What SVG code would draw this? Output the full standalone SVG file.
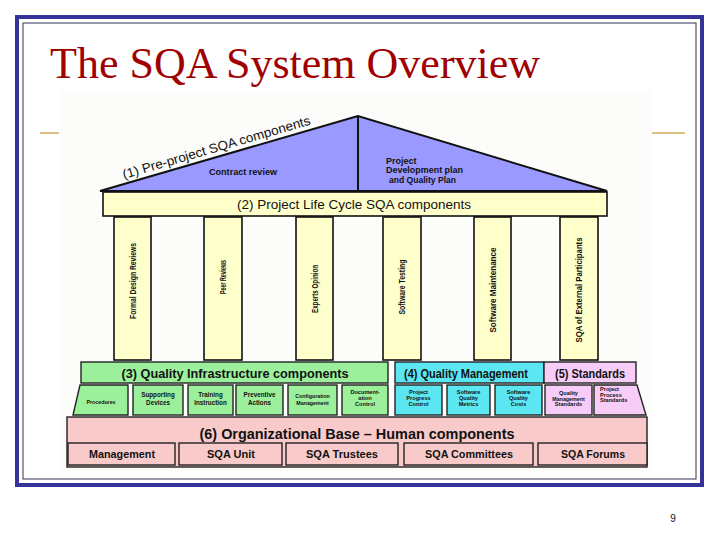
<svg xmlns="http://www.w3.org/2000/svg" width="720" height="540" viewBox="0 0 720 540">
<style>
.s{font-family:"Liberation Sans",Arial,sans-serif;font-weight:bold;fill:#111;text-anchor:middle}
.n{font-family:"Liberation Sans",Arial,sans-serif;fill:#111;text-anchor:middle}
.sm{font-size:6.3px}
.t3{font-size:5.6px}
.xs{font-size:5.3px}
.pil{fill:#FFFFCC;stroke:#111;stroke-width:1.6}
.grn{fill:#9CF09C;stroke:#222;stroke-width:1.4}
.cyn{fill:#5CE6F2;stroke:#222;stroke-width:1.4}
.mag{fill:#F7CCF7;stroke:#222;stroke-width:1.4}
.pnk{fill:#F9CACA;stroke:#222;stroke-width:1.4}
.hd{font-size:12.5px}
.bt{font-size:11px}
</style>
<rect x="0" y="0" width="720" height="540" fill="#ffffff"/>
<rect x="17" y="17" width="685" height="468" fill="none" stroke="#333399" stroke-width="4"/>
<rect x="23" y="23" width="673" height="456" fill="none" stroke="#333355" stroke-width="1"/>
<text x="50" y="78" font-family="'Liberation Serif','Times New Roman',serif" font-size="44" fill="#A00000">The SQA System Overview</text>
<line x1="40" y1="133" x2="62" y2="133" stroke="#D2A85A" stroke-width="1.5"/>
<line x1="650" y1="133" x2="685" y2="133" stroke="#D2A85A" stroke-width="1.5"/>
<rect x="59" y="90" width="593" height="382" fill="#FCFCFA"/>

<g id="roof">
<polygon points="358,116 100,191 607,191" fill="#9999FF" stroke="#111" stroke-width="2"/>
<line x1="358" y1="116" x2="358" y2="191" stroke="#111" stroke-width="2"/>
<text class="n" font-size="13" transform="translate(124,179) rotate(-16.3)" textLength="195" lengthAdjust="spacingAndGlyphs" style="text-anchor:start">(1) Pre-project SQA components</text>
<text class="s" font-size="9" x="243" y="175" textLength="68" lengthAdjust="spacingAndGlyphs">Contract review</text>
<text class="s" font-size="9" x="386" y="164" style="text-anchor:start">Project</text>
<text class="s" font-size="9" x="386" y="173" style="text-anchor:start" textLength="77" lengthAdjust="spacingAndGlyphs">Development plan</text>
<text class="s" font-size="9" x="389" y="183" style="text-anchor:start" textLength="67" lengthAdjust="spacingAndGlyphs">and Quality Plan</text>
</g>

<g id="lifecycle">
<rect x="103" y="192" width="504" height="24" fill="#FFFFCC" stroke="#111" stroke-width="1.6"/>
<text class="n" font-size="13" x="354" y="209" textLength="234" lengthAdjust="spacingAndGlyphs">(2) Project Life Cycle SQA components</text>
</g>

<g id="pillar-fdr">
<rect class="pil" x="114" y="217" width="37" height="143"/>
<text class="s" font-size="9" transform="translate(135.5,281) rotate(-90)" textLength="76" lengthAdjust="spacingAndGlyphs">Formal Design Reviews</text>
</g>
<g id="pillar-peer">
<rect class="pil" x="204" y="217" width="38" height="143"/>
<text class="s" font-size="9" transform="translate(226,277) rotate(-90)" textLength="34" lengthAdjust="spacingAndGlyphs">Peer Reviews</text>
</g>
<g id="pillar-expert">
<rect class="pil" x="296" y="217" width="37" height="143"/>
<text class="s" font-size="9" transform="translate(317.5,289) rotate(-90)" textLength="48" lengthAdjust="spacingAndGlyphs">Experts Opinion</text>
</g>
<g id="pillar-testing">
<rect class="pil" x="383" y="217" width="38" height="143"/>
<text class="s" font-size="9" transform="translate(405,287) rotate(-90)" textLength="55" lengthAdjust="spacingAndGlyphs">Software Testing</text>
</g>
<g id="pillar-maint">
<rect class="pil" x="474" y="217" width="37" height="143"/>
<text class="s" font-size="9" transform="translate(495.5,290) rotate(-90)" textLength="85" lengthAdjust="spacingAndGlyphs">Software Maintenance</text>
</g>
<g id="pillar-ext">
<rect class="pil" x="560" y="217" width="38" height="143"/>
<text class="s" font-size="9" transform="translate(582,290) rotate(-90)" textLength="105" lengthAdjust="spacingAndGlyphs">SQA of External Participants</text>
</g>

<g id="infrastructure">
<rect class="grn" x="81" y="362" width="307" height="21"/>
<text class="s hd" x="235" y="378" textLength="227" lengthAdjust="spacingAndGlyphs">(3) Quality Infrastructure components</text>
</g>
<g id="procedures">
<polygon class="grn" points="80,385 128,385 128,415 73,415"/>
<text class="s xs" x="101" y="404">Procedures</text>
</g>
<g id="supporting">
<rect class="grn" x="133" y="385" width="50" height="30"/>
<text class="s sm" x="158" y="397">Supporting</text>
<text class="s sm" x="158" y="405">Devices</text>
</g>
<g id="training">
<rect class="grn" x="188" y="385" width="45" height="30"/>
<text class="s sm" x="210.5" y="397">Training</text>
<text class="s sm" x="210.5" y="405">Instruction</text>
</g>
<g id="preventive">
<rect class="grn" x="236" y="385" width="47" height="30" stroke-width="2"/>
<text class="s sm" x="259.5" y="397">Preventive</text>
<text class="s sm" x="259.5" y="405">Actions</text>
</g>
<g id="configuration">
<rect class="grn" x="288" y="385" width="49" height="30"/>
<text class="s xs" x="312.5" y="398">Configuration</text>
<text class="s xs" x="312.5" y="405">Management</text>
</g>
<g id="documentation">
<rect class="grn" x="342" y="385" width="46" height="30"/>
<text class="s t3" x="365" y="394">Document-</text>
<text class="s t3" x="365" y="400">ation</text>
<text class="s t3" x="365" y="406">Control</text>
</g>

<g id="quality-management">
<rect class="cyn" x="395" y="362" width="149" height="21"/>
<text class="s hd" x="466" y="378" textLength="124" lengthAdjust="spacingAndGlyphs">(4) Quality Management</text>
</g>
<g id="progress">
<rect class="cyn" x="395" y="385" width="47" height="30"/>
<text class="s t3" x="418.5" y="394">Project</text>
<text class="s t3" x="418.5" y="400">Progress</text>
<text class="s t3" x="418.5" y="406">Control</text>
</g>
<g id="metrics">
<rect class="cyn" x="447" y="385" width="43" height="30"/>
<text class="s t3" x="468.5" y="394">Software</text>
<text class="s t3" x="468.5" y="400">Quality</text>
<text class="s t3" x="468.5" y="406">Metrics</text>
</g>
<g id="costs">
<rect class="cyn" x="495" y="385" width="47" height="30"/>
<text class="s t3" x="518.5" y="394">Software</text>
<text class="s t3" x="518.5" y="400">Quality</text>
<text class="s t3" x="518.5" y="406">Costs</text>
</g>

<g id="standards">
<rect class="mag" x="544" y="362" width="92" height="21"/>
<text class="s hd" x="590" y="378" textLength="70" lengthAdjust="spacingAndGlyphs">(5) Standards</text>
</g>
<g id="qm-standards">
<rect class="mag" x="545" y="385" width="47" height="30"/>
<text class="s t3" x="568.5" y="395">Quality</text>
<text class="s xs" x="568.5" y="400.5">Management</text>
<text class="s t3" x="568.5" y="406">Standards</text>
</g>
<g id="pp-standards">
<polygon class="mag" points="594,385 637,385 646,415 594,415"/>
<text class="s t3" x="600" y="391" style="text-anchor:start">Project</text>
<text class="s t3" x="600" y="396.5" style="text-anchor:start">Process</text>
<text class="s t3" x="600" y="402" style="text-anchor:start">Standards</text>
</g>

<g id="org-base">
<rect class="pnk" x="67" y="417" width="580" height="50"/>
<text class="s" font-size="15" x="357" y="439" textLength="315" lengthAdjust="spacingAndGlyphs">(6) Organizational Base – Human components</text>
</g>
<g id="management">
<rect class="pnk" x="68" y="443" width="107" height="22" stroke-width="2"/>
<text class="s bt" x="122" y="458" textLength="66" lengthAdjust="spacingAndGlyphs">Management</text>
</g>
<g id="sqa-unit">
<rect class="pnk" x="179" y="443" width="103" height="22"/>
<text class="s bt" x="231" y="458" textLength="48" lengthAdjust="spacingAndGlyphs">SQA Unit</text>
</g>
<g id="sqa-trustees">
<rect class="pnk" x="286" y="443" width="112" height="22"/>
<text class="s bt" x="342" y="458" textLength="72" lengthAdjust="spacingAndGlyphs">SQA Trustees</text>
</g>
<g id="sqa-committees">
<rect class="pnk" x="404" y="443" width="129" height="22" stroke-width="2"/>
<text class="s bt" x="469" y="458" textLength="88" lengthAdjust="spacingAndGlyphs">SQA Committees</text>
</g>
<g id="sqa-forums">
<rect class="pnk" x="538" y="443" width="109" height="22"/>
<text class="s bt" x="593" y="458" textLength="64" lengthAdjust="spacingAndGlyphs">SQA Forums</text>
</g>

<g id="connectors"></g>

<text x="673" y="522" font-family="'Liberation Sans',Arial,sans-serif" font-size="10" fill="#111" text-anchor="middle">9</text>
</svg>
